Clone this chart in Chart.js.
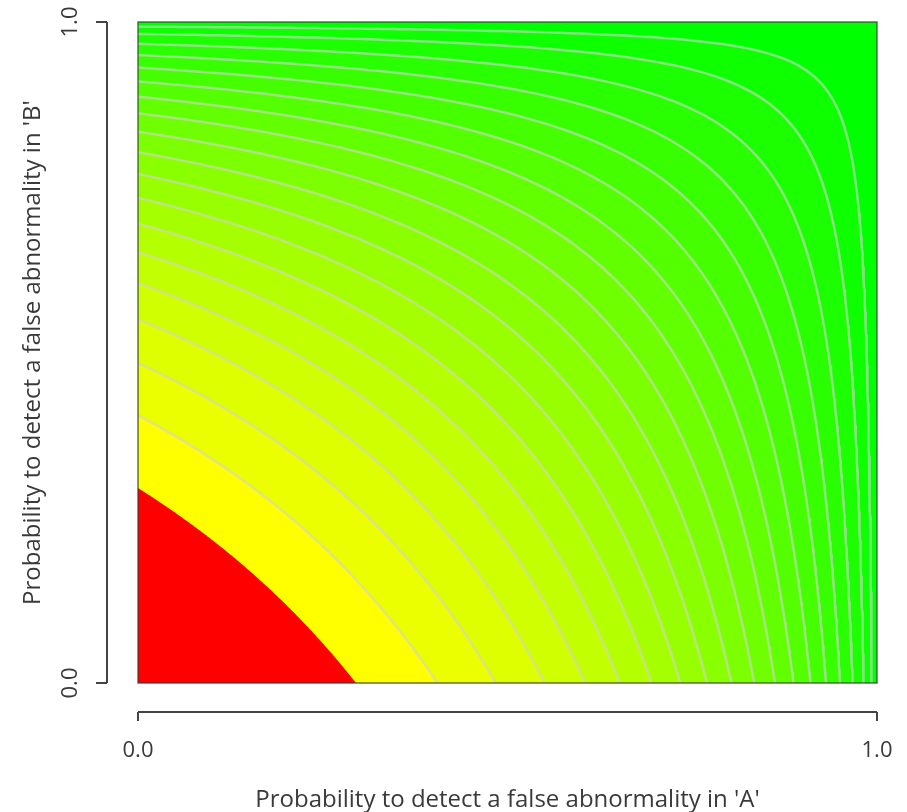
<!DOCTYPE html>
<html>
<head>
<meta charset="utf-8">
<script src="https://cdn.jsdelivr.net/npm/chart.js@4.4.0/dist/chart.umd.min.js"></script>
<style>
  html, body { margin: 0; padding: 0; background: #ffffff; }
  #wrap { width: 907px; height: 812px; }
</style>
</head>
<body>
<div id="wrap"><canvas id="contour" width="907" height="812"></canvas></div>
<script>
// contour levels of P(A or B), read where each line meets the plot edge
const levels = [0.295, 0.405, 0.484, 0.550, 0.605, 0.652, 0.695, 0.734, 0.770, 0.803,
                0.834, 0.862, 0.887, 0.910, 0.931, 0.950, 0.967, 0.982, 0.993];
// fill for the band just below each level, the last one is the band above the top level
const bandColors = ['#FF0000', '#FFFF00', '#EBFF00', '#DDFF00', '#CFFF00', '#C2FF00',
                    '#B4FF00', '#A6FF00', '#98FF00', '#8AFF00', '#7CFF00', '#6FFF00',
                    '#61FF00', '#53FF00', '#45FF00', '#37FF00', '#29FF00', '#1CFF00',
                    '#0EFF00', '#00FF00'];
const tickValues = [0, 1];
const tickLabels = ['0.0', '1.0'];
const xTitle = "Probability to detect a false abnormality in 'A'";
const yTitle = "Probability to detect a false abnormality in 'B'";

const lineColor = 'rgba(210, 210, 210, 0.6)';
const textColor = '#3a3a3a';
const labelFont = '22px "Open Sans"';
const titleFont = '24px "Open Sans"';

// points of the curve (1-a)(1-b) = 1-level, walked from the left edge to the bottom edge
function contourPoints(level) {
    const q = 1 - level;
    const mid = 1 - Math.sqrt(q);
    const n = 80;
    const pts = [];
    for (let i = 0; i <= n; i++) {
        const a = mid * i / n;
        pts.push({ x: a, y: 1 - q / (1 - a) });
    }
    for (let i = n - 1; i >= 0; i--) {
        const b = mid * i / n;
        pts.push({ x: 1 - q / (1 - b), y: b });
    }
    return pts;
}

const datasets = levels.map((lv, i) => ({
    data: contourPoints(lv),
    backgroundColor: bandColors[i],
    borderColor: i === 0 ? 'rgba(0,0,0,0)' : lineColor,
    borderWidth: i === 0 ? 0 : 2.5,
    fill: 'origin',
    pointRadius: 0,
    tension: 0
}));
// top band covers the whole square
datasets.push({
    data: [{ x: 0, y: 1 }, { x: 1, y: 1 }],
    backgroundColor: bandColors[bandColors.length - 1],
    borderWidth: 0,
    fill: 'origin',
    pointRadius: 0
});

const axesPlugin = {
    id: 'rAxes',
    afterDraw(chart) {
        const { ctx, chartArea } = chart;
        const xs = chart.scales.x;
        const ys = chart.scales.y;
        ctx.save();

        // box round the plot
        ctx.strokeStyle = 'rgba(50, 60, 50, 0.75)';
        ctx.lineWidth = 1.5;
        ctx.strokeRect(chartArea.left, chartArea.top, chartArea.width, chartArea.height);

        ctx.strokeStyle = '#444444';
        ctx.lineWidth = 2;
        ctx.fillStyle = textColor;

        // x axis, set below the plot
        const xAxisY = 712;
        ctx.beginPath();
        ctx.moveTo(xs.getPixelForValue(tickValues[0]), xAxisY);
        ctx.lineTo(xs.getPixelForValue(tickValues[tickValues.length - 1]), xAxisY);
        tickValues.forEach(v => {
            const px = xs.getPixelForValue(v);
            ctx.moveTo(px, xAxisY);
            ctx.lineTo(px, xAxisY + 9);
        });
        ctx.stroke();
        ctx.font = labelFont;
        ctx.textAlign = 'center';
        ctx.textBaseline = 'middle';
        tickValues.forEach((v, i) => {
            ctx.fillText(tickLabels[i], xs.getPixelForValue(v), 751);
        });

        // y axis, set left of the plot
        const yAxisX = 107;
        ctx.beginPath();
        ctx.moveTo(yAxisX, ys.getPixelForValue(tickValues[0]));
        ctx.lineTo(yAxisX, ys.getPixelForValue(tickValues[tickValues.length - 1]));
        tickValues.forEach(v => {
            const py = ys.getPixelForValue(v);
            ctx.moveTo(yAxisX, py);
            ctx.lineTo(yAxisX - 11, py);
        });
        ctx.stroke();
        tickValues.forEach((v, i) => {
            ctx.save();
            ctx.translate(71, ys.getPixelForValue(v));
            ctx.rotate(-Math.PI / 2);
            ctx.fillText(tickLabels[i], 0, 0);
            ctx.restore();
        });

        // axis titles
        ctx.font = titleFont;
        ctx.fillText(xTitle, (chartArea.left + chartArea.right) / 2, 800);
        ctx.save();
        ctx.translate(33, (chartArea.top + chartArea.bottom) / 2);
        ctx.rotate(-Math.PI / 2);
        ctx.fillText(yTitle, 0, 0);
        ctx.restore();

        ctx.restore();
    }
};

new Chart(document.getElementById('contour'), {
    type: 'line',
    data: { datasets: datasets },
    options: {
        responsive: false,
        animation: false,
        events: [],
        layout: { padding: { left: 138, top: 22, right: 30, bottom: 129 } },
        plugins: {
            legend: { display: false },
            tooltip: { enabled: false },
            filler: { propagate: false }
        },
        scales: {
            x: { type: 'linear', min: 0, max: 1, display: false },
            y: { type: 'linear', min: 0, max: 1, display: false }
        }
    },
    plugins: [axesPlugin]
});
</script>
</body>
</html>
